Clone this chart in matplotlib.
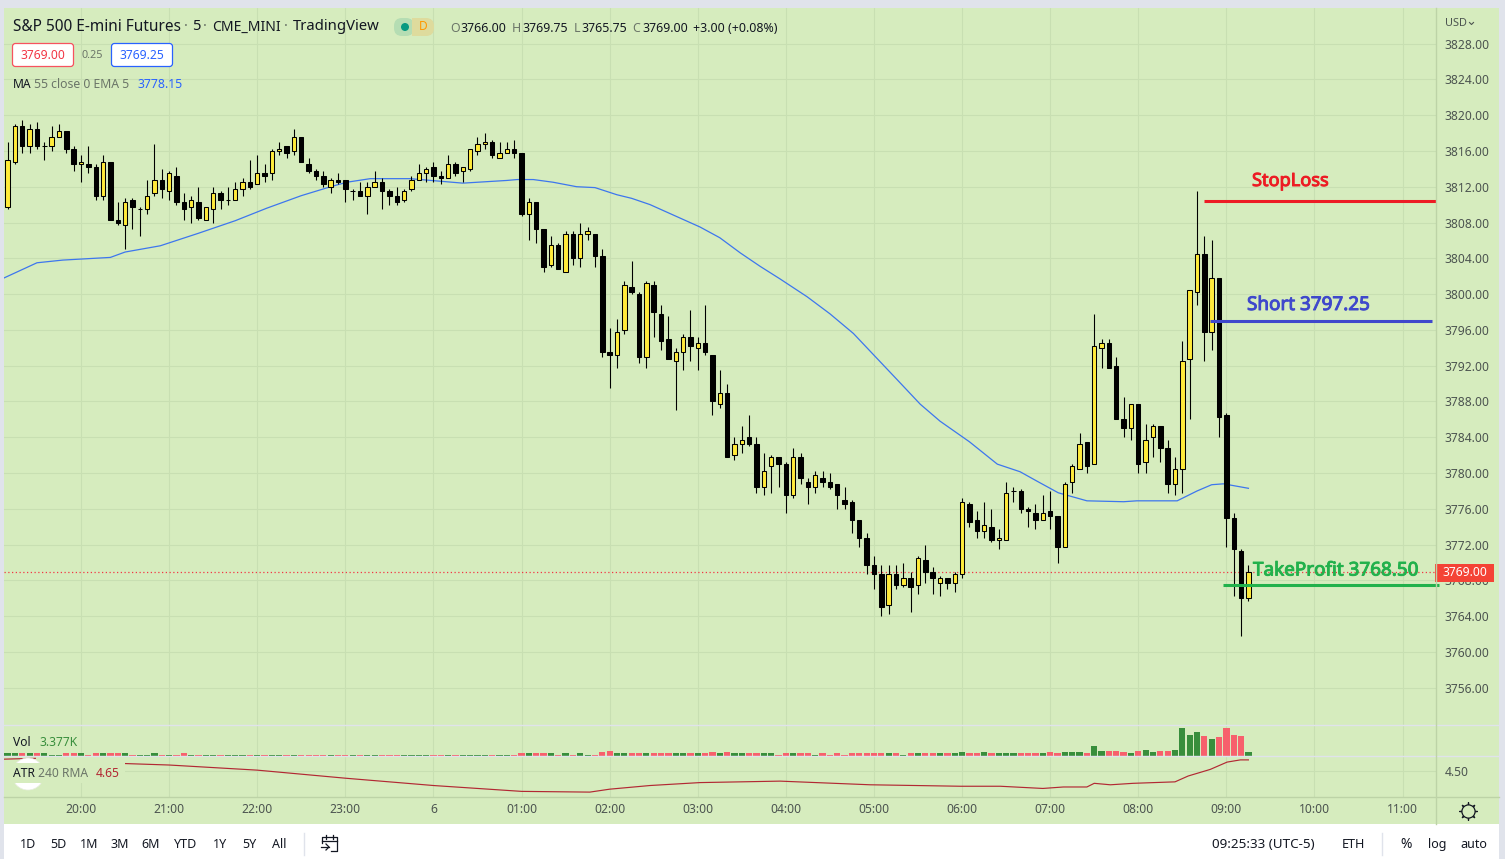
import matplotlib
matplotlib.use('Agg')
import matplotlib.pyplot as plt
import matplotlib.patheffects as pe
from matplotlib.patches import Rectangle, Circle, FancyBboxPatch

plt.rcParams['font.family'] = ['Noto Sans', 'DejaVu Sans']

W, H = 1505, 859

# 5 minute bars, bar 0 is 20:00
bar_index = list(range(-10, 160))
opens = [3809.75, 3814.75, 3818.75, 3816.5, 3818.5, 3816.5, 3816.5, 3817.5, 3818.25, 3816.25,
         3814.5, 3814.5, 3814.25, 3811, 3814.75, 3808.25, 3807.75, 3810.5, 3809.5, 3809.5,
         3811.25, 3812.75, 3811.5, 3813.25, 3810.25, 3809.75, 3810.25, 3808.25, 3809.5, 3811.25,
         3810.5, 3810.5, 3811.75, 3812.5, 3812.25, 3813.5, 3813.5, 3816, 3816.5, 3816,
         3817.5, 3814.5, 3813.75, 3813.25, 3812, 3812.75, 3812.75, 3811.5, 3811.5, 3811,
         3812, 3812.5, 3811.5, 3811, 3810.5, 3811.75, 3812.75, 3813.5, 3814.25, 3813.25,
         3813, 3814.5, 3813.75, 3814, 3816, 3816.75, 3817, 3815.25, 3815.75, 3816.25,
         3815.75, 3809, 3810.25, 3807.25, 3803.25, 3805.5, 3802.5, 3806.75, 3804, 3806.75,
         3806.75, 3804.25, 3793.5, 3793.25, 3796, 3800.75, 3800, 3793, 3801, 3797.75,
         3795, 3792.5, 3793.5, 3795.25, 3794, 3794.5, 3793.25, 3787.75, 3789, 3782,
         3783.25, 3784, 3783.25, 3778.5, 3780.75, 3781.75, 3781, 3777.5, 3781.75, 3779,
         3778.5, 3779.5, 3779, 3778.75, 3777, 3776.75, 3774.75, 3772.75, 3769.75, 3768.75,
         3765.25, 3768.75, 3767.5, 3768.25, 3767.5, 3770.25, 3769, 3767.75, 3768.25, 3767.75,
         3768.75, 3776.5, 3774.75, 3773.5, 3774, 3772.5, 3772.5, 3778, 3778, 3776,
         3775.5, 3774.75, 3775.75, 3775.25, 3771.75, 3779, 3780.5, 3783.5, 3781, 3794,
         3794.5, 3792, 3786, 3785, 3787.75, 3781.25, 3784, 3785.25, 3782.75, 3778.75,
         3780.5, 3792.75, 3800.25, 3804.5, 3795.75, 3801.75, 3786.5, 3775, 3771.25, 3766]
highs = [3817, 3819, 3819.5, 3819, 3819.25, 3817, 3818.75, 3819, 3818.25, 3816.5,
         3815.5, 3816.5, 3814.5, 3815.5, 3814.75, 3810.25, 3810.75, 3810.75, 3809.75, 3812.75,
         3816.75, 3814, 3813.75, 3814.25, 3811.25, 3811, 3812, 3809.75, 3812, 3811.5,
         3812, 3812.5, 3813, 3815, 3815.5, 3814.5, 3816.25, 3817, 3816.5, 3818.5,
         3817.5, 3815.25, 3814, 3813.75, 3813, 3813.5, 3812.75, 3811.75, 3812.5, 3812.5,
         3813.75, 3813, 3811.75, 3812, 3811.75, 3813.25, 3814.5, 3814.25, 3814.75, 3813.75,
         3815.5, 3814.75, 3814.25, 3816.25, 3817.5, 3818, 3817.25, 3817, 3817, 3817.25,
         3815.75, 3810.75, 3810.25, 3807.25, 3806.5, 3805.75, 3807, 3807, 3808, 3807.5,
         3806.75, 3805, 3796.25, 3797.25, 3801.5, 3803.75, 3800.25, 3801.5, 3801.5, 3798.75,
         3797.5, 3794, 3795.5, 3798.25, 3795.25, 3798.75, 3793.25, 3791.5, 3790, 3784,
         3785.25, 3786.5, 3784, 3782.25, 3782, 3781.75, 3781.25, 3782.75, 3782.25, 3779.5,
         3780.25, 3780.25, 3780, 3778.75, 3778.5, 3777, 3774.75, 3773.25, 3770.75, 3769.75,
         3769.75, 3769.75, 3770, 3769, 3770.75, 3772, 3769.5, 3768.5, 3768.25, 3769,
         3777.25, 3776.75, 3775.75, 3776.75, 3776, 3773.75, 3779, 3778.5, 3778.25, 3776.25,
         3776.5, 3777.5, 3778, 3775.25, 3779, 3781, 3784.5, 3783.5, 3797.75, 3795,
         3795, 3793, 3788.5, 3787.75, 3787.75, 3785.5, 3785.5, 3785.25, 3783.75, 3781.75,
         3794.75, 3800.5, 3811.5, 3806.5, 3806, 3801.75, 3786.75, 3775.5, 3771.5, 3769.75]
lows = [3809.5, 3814.5, 3815.75, 3815.75, 3816.25, 3815, 3816, 3817.5, 3815.75, 3813.75,
        3812.5, 3813.5, 3810.5, 3810.5, 3808.25, 3807.75, 3805, 3807.25, 3806.5, 3809,
        3811, 3810.75, 3810.5, 3810, 3808.25, 3808, 3808.25, 3808.25, 3808, 3809.5,
        3810, 3810.5, 3811, 3811.75, 3812.25, 3812.5, 3812.75, 3815.5, 3815.25, 3815.5,
        3814.75, 3813.5, 3812.75, 3812, 3811.25, 3812.25, 3810.25, 3810.5, 3811, 3809,
        3812, 3809.5, 3810, 3810, 3810.25, 3811.5, 3812.75, 3812.5, 3812.5, 3812.25,
        3813, 3813.25, 3812.5, 3813.75, 3815.5, 3816.25, 3815.25, 3815.25, 3815.75, 3815.25,
        3808.75, 3806, 3805.75, 3802.5, 3803, 3802.75, 3802.5, 3803.25, 3803, 3806,
        3803, 3793, 3789.5, 3791.75, 3795.5, 3800, 3792.25, 3791.75, 3795.25, 3793.75,
        3792.75, 3787, 3791.5, 3792.5, 3791.5, 3793.25, 3786.5, 3787.25, 3781.75, 3781.5,
        3782.25, 3783, 3777.75, 3777.5, 3777.75, 3778.5, 3775.5, 3777.25, 3778.75, 3776.5,
        3777.75, 3778.5, 3778.25, 3776, 3776, 3773.25, 3771.75, 3768.75, 3767, 3764,
        3764.25, 3767, 3767.25, 3764.5, 3766.5, 3767.75, 3766.5, 3766.25, 3767, 3766.75,
        3768.25, 3774, 3772.75, 3772.75, 3772.25, 3771.5, 3772.5, 3776.75, 3775.5, 3774,
        3773.75, 3774.75, 3773.75, 3770, 3771.75, 3777.75, 3780.5, 3780, 3781, 3791.75,
        3791.75, 3786, 3784, 3783.75, 3780, 3780, 3781.75, 3781.25, 3777.75, 3777.5,
        3777.75, 3786, 3798.75, 3792.5, 3793.75, 3784, 3771.75, 3766.25, 3761.75, 3765.75]
closes = [3815, 3818.75, 3816.5, 3818.5, 3816.5, 3816.5, 3817.5, 3818.25, 3816.25, 3814.5,
          3814.75, 3814.25, 3811, 3814.75, 3808.25, 3808, 3810.25, 3809.75, 3809.5, 3811,
          3812.75, 3811.75, 3813.5, 3810.25, 3809.5, 3810.5, 3808.5, 3809.75, 3811.25, 3810.5,
          3810.5, 3811.75, 3812.5, 3812, 3813.5, 3813.25, 3816, 3816.25, 3815.75, 3817.5,
          3814.75, 3813.75, 3813.25, 3812.25, 3812.75, 3812.5, 3811.75, 3811.5, 3811, 3812,
          3812.5, 3811.5, 3811, 3810.25, 3811.5, 3812.75, 3813.5, 3814, 3813.25, 3813,
          3814.5, 3813.5, 3814.25, 3816.25, 3816.75, 3817, 3815.5, 3815.75, 3816.25, 3815.75,
          3809, 3810.25, 3807.25, 3803, 3805.5, 3802.75, 3806.75, 3804, 3806.75, 3807,
          3804.25, 3793.5, 3793.25, 3795.75, 3801, 3800.25, 3793, 3801.25, 3798, 3794.75,
          3792.75, 3793.5, 3795.25, 3794.25, 3794.5, 3793.5, 3788, 3789, 3781.75, 3783.25,
          3783.75, 3783.25, 3778.5, 3780.25, 3781.75, 3781, 3777.5, 3781.75, 3779.5, 3778.5,
          3779.75, 3779, 3778.5, 3777.5, 3776.5, 3774.75, 3772.75, 3769.75, 3768.75, 3765,
          3768.75, 3767.5, 3768.25, 3767.25, 3770.5, 3769, 3768.25, 3768.25, 3767.75, 3768.75,
          3776.75, 3774.5, 3773.5, 3774.25, 3772.5, 3772.75, 3777.75, 3778, 3776, 3775.75,
          3774.75, 3775.5, 3775.25, 3771.75, 3778.75, 3780.75, 3783.25, 3780.75, 3794.25, 3794.5,
          3791.75, 3786, 3785, 3787.75, 3781, 3783.75, 3785.25, 3782.75, 3778.75, 3780.5,
          3792.5, 3800.5, 3804.5, 3795.75, 3801.75, 3786.25, 3775, 3771.5, 3766, 3769]
volume = [2.25, 2.25, 2.25, 2.25, 2.25, 2.25, 1.1, 1.1, 2.25, 2.25,
          2.25, 1.1, 2.25, 2.25, 2.25, 2.25, 2.25, 1.1, 1.1, 1.1,
          2.6, 1.1, 1.1, 1.1, 2.6, 1.1, 1.1, 1.1, 1.1, 1.1,
          1.1, 1.1, 1.1, 1.1, 1.1, 1.1, 1.1, 1.1, 1.1, 1.1,
          1.1, 1.1, 1.1, 1.1, 1.1, 1.1, 1.1, 1.1, 1.1, 1.1,
          1.1, 1.1, 1.1, 1.1, 1.1, 1.1, 1.1, 1.1, 1.1, 1.1,
          1.1, 1.1, 1.1, 1.1, 1.1, 1.1, 1.1, 1.1, 1.1, 1.1,
          2.25, 2.25, 2.25, 2.25, 2.25, 1.1, 2.25, 1.1, 2.25, 1.1,
          1.1, 3.4, 4.5, 2.25, 2.25, 2.25, 2.25, 2.25, 2.25, 2.25,
          2.25, 2.25, 2.25, 2.25, 2.25, 2.25, 3.4, 2.25, 3.4, 2.25,
          2.25, 2.25, 2.25, 2.25, 2.25, 1.1, 2.25, 2.25, 2.25, 2.25,
          1.1, 2.25, 1.1, 2.25, 1.1, 2.25, 2.25, 2.25, 2.25, 2.25,
          2.25, 2.25, 1.1, 2.25, 2.25, 2.25, 2.25, 2.25, 2.25, 2.25,
          3.4, 2.25, 2.25, 3.4, 2.25, 2.25, 2.25, 2.25, 2.25, 2.25,
          2.25, 2.25, 3.4, 2.25, 3.4, 3.4, 3.4, 2.25, 10.1, 4.5,
          4.5, 4.5, 3.4, 2.25, 4.5, 5.6, 3.4, 4.5, 4.5, 5.6,
          30.4, 22.5, 25.9, 21.4, 18, 20.3, 30.4, 22.5, 21.4, 3.377]

ema_x = [-10.5, -6, -2.5, 4, 6, 10.8, 16, 21, 25.3, 30, 34, 36.2, 39.4, 44.8, 52, 58, 59.4, 61.6,
         64.3, 67.5, 70, 73, 75, 77.5, 84.3, 87, 89.8, 92.5, 95.2, 98.9, 102, 105.2, 108.2, 111.2,
         114.3, 117, 121, 124.8, 127.9, 130.2, 133.1, 137, 142, 143.8, 149.3, 152, 154, 155.6, 159]
ema_y = [3801.8, 3803.5, 3803.8, 3804.1, 3804.7, 3805.4, 3806.8, 3808.2, 3809.6, 3811, 3812, 3812.5,
         3812.9, 3812.9, 3812.4, 3812.7, 3812.8, 3812.8, 3812.5, 3812, 3811.9, 3811.1, 3810.7, 3810,
         3807.5, 3806.3, 3804.6, 3803.1, 3801.7, 3799.7, 3797.8, 3795.6, 3793, 3790.4, 3787.7, 3785.8,
         3783.5, 3781, 3780.15, 3779.1, 3777.8, 3776.9, 3776.8, 3776.9, 3776.9, 3778, 3778.7, 3778.8,
         3778.3]

atr_x = [-10.5, -5, 6, 12, 24, 36, 48, 60, 69.3, 72, 77.5, 84.3, 95.2, 107.5, 119.8, 125.2, 131,
         133.8, 137, 138, 140.2, 143.3, 149, 150.8, 153.8, 156.1, 157.9, 159]
atr_y = [4.66, 4.675, 4.60, 4.58, 4.51, 4.40, 4.30, 4.22, 4.21, 4.25, 4.30, 4.34, 4.36, 4.31, 4.29,
         4.29, 4.26, 4.28, 4.28, 4.33, 4.31, 4.33, 4.35, 4.43, 4.52, 4.62, 4.65, 4.65]

price_ticks = [3756, 3760, 3764, 3768, 3772, 3776, 3780, 3784, 3788, 3792, 3796, 3800, 3804, 3808,
               3812, 3816, 3820, 3824, 3828]
hour_ticks = [0, 12, 24, 36, 48, 60, 72, 84, 96, 108, 120, 132, 144, 156, 168, 180]
hour_labels = ['20:00', '21:00', '22:00', '23:00', '6', '01:00', '02:00', '03:00', '04:00',
               '05:00', '06:00', '07:00', '08:00', '09:00', '10:00', '11:00']
range_labels = ['1D', '5D', '1M', '3M', '6M', 'YTD', '1Y', '5Y', 'All']
range_pos = [28, 58, 89, 120, 151, 186, 220, 249, 279]

last_price = 3769
stop_level = 3810.45
short_level = 3797.05
take_level = 3767.5

BG = '#D6ECBE'
GRID = '#C8DFB2'
EDGE = '#BDD3A7'
SEP = '#E0E3EB'
TXT = '#131722'
AXTXT = '#4C5450'
GREY = '#6B7568'
UP = '#FFEB3B'
VOL_UP = '#388E3C'
VOL_DOWN = '#F7606C'

fig = plt.figure(figsize=(W / 100, H / 100), dpi=100, facecolor=SEP)


def px_axes(left, top, right, bottom, z):
    return fig.add_axes([left / W, 1 - bottom / H, (right - left) / W, (bottom - top) / H], zorder=z)


# page background and overlay, both in screen pixels
back = px_axes(0, 0, W, H, 0)
back.set_xlim(0, W)
back.set_ylim(H, 0)
back.axis('off')
back.add_patch(Rectangle((4, 8), 1495, 816, fc=BG, ec='none'))
back.add_patch(Rectangle((4, 824), 1495, 35, fc='white', ec='none'))

top = px_axes(0, 0, W, H, 5)
top.set_xlim(0, W)
top.set_ylim(H, 0)
top.axis('off')

ax = px_axes(4, 8, 1436, 725, 2)
ax_vol = px_axes(4, 725, 1436, 755.5, 2)
ax_atr = px_axes(4, 755.5, 1436, 796.5, 2)

for a in (ax, ax_vol, ax_atr):
    a.set_facecolor('none')
    a.set_xlim(-10.49, 184.55)
    a.set_xticks(hour_ticks)
    a.grid(True, color=GRID, lw=0.8)
    a.set_axisbelow(True)
    a.yaxis.tick_right()
    a.tick_params(length=0, labelsize=8.7, labelcolor=AXTXT, labelbottom=False)
    a.tick_params(axis='y', pad=6.3)
    for s in a.spines.values():
        s.set_visible(False)

# candles
ax.set_ylim(3751.85, 3831.97)
ax.set_yticks(price_ticks)
ax.set_yticklabels(['%.2f' % p for p in price_ticks])
ax.plot(ema_x, ema_y, color='#3D76EE', lw=0.9, zorder=2)
ax.axhline(last_price, color='#F23645', lw=0.9, ls=(0, (1, 2)), zorder=2)
ax.vlines(bar_index, lows, highs, color='black', lw=0.78, zorder=3)
bottoms = [min(o, c) for o, c in zip(opens, closes)]
heights = [abs(o - c) for o, c in zip(opens, closes)]
body_colors = [UP if c > o else 'black' for o, c in zip(opens, closes)]
ax.bar(bar_index, heights, bottom=bottoms, width=0.6, color=body_colors, edgecolor='black', lw=0.75, zorder=4)

# hand drawn trade levels
ax.hlines(stop_level, 152.9, 184.5, color='#ED1C24', lw=2.2, zorder=6)
ax.hlines(short_level, 153.8, 184, color='#3F48CC', lw=2.2, zorder=6)
ax.hlines(take_level, 155.6, 185, color='#22B14C', lw=2.2, zorder=6, clip_on=False)

# volume
ax_vol.set_ylim(0, 34)
ax_vol.set_yticks([])
vol_colors = [VOL_UP if c >= o else VOL_DOWN for o, c in zip(opens, closes)]
ax_vol.bar(bar_index, volume, width=0.85, color=vol_colors, zorder=3)

# ATR
ax_atr.set_ylim(4.15, 4.71)
ax_atr.set_yticks([4.5])
ax_atr.set_yticklabels(['4.50'])
ax_atr.plot(atr_x, atr_y, color='#B22833', lw=0.85, zorder=3)
ax_atr.set_xticklabels(hour_labels)
ax_atr.tick_params(axis='x', labelbottom=True, pad=5, labelsize=8.7, labelcolor=AXTXT)

# pane separators and price scale border
top.plot([4, 1499], [724.5, 724.5], color=SEP, lw=1.0)
top.plot([4, 1499], [755.5, 755.5], color=SEP, lw=1.0)
top.plot([4, 1499], [796.5, 796.5], color=EDGE, lw=1.0)
top.plot([1436, 1436], [8, 824], color=EDGE, lw=1.0)


def label(x, y, s, color=TXT, size=8.7, ha='left', **kw):
    return top.text(x, y, s, color=color, fontsize=size, ha=ha, va='center', **kw)


# title row
label(13, 27, 'S&P 500 E-mini Futures', size=11.1)
label(186, 27, '·', color=GREY, size=10.6, ha='center')
label(192, 27, '5', size=10.6)
label(205, 27, '·', color=GREY, size=10.6, ha='center')
label(212, 27, 'CME_MINI', size=10.1)
label(286, 27, '·', color=GREY, size=10.6, ha='center')
label(293, 27, 'TradingView', size=10.7)
top.add_patch(FancyBboxPatch((394, 18), 20, 18, boxstyle='round,pad=0,rounding_size=8', fc='#B5DDB3', ec='none'))
top.add_patch(FancyBboxPatch((414, 18), 20, 18, boxstyle='round,pad=0,rounding_size=8', fc='#DEDB9D', ec='none'))
top.add_patch(Rectangle((412, 18), 8, 18, fc='#DEDB9D', ec='none'))
top.add_patch(Circle((405, 27), 4, fc='#089981', ec='none'))
label(423, 27, 'D', color='#FF9800', size=8.6, ha='center')

for x, s, c in [(450, 'O', GREY), (460, '3766.00', TXT), (512, 'H', GREY), (522, '3769.75', TXT),
                (574, 'L', GREY), (581.5, '3765.75', TXT), (632, 'C', GREY), (642, '3769.00', TXT),
                (693, '+3.00 (+0.08%)', TXT)]:
    label(x, 28, s, color=c, size=8.9)

# bid and ask
top.add_patch(FancyBboxPatch((12.5, 43.5), 61, 23, boxstyle='round,pad=0,rounding_size=3', fc='white', ec='#F7525F', lw=0.9))
label(43, 55.5, '3769.00', color='#F23645', ha='center')
label(92.5, 55.5, '0.25', color=GREY, size=7.8, ha='center')
top.add_patch(FancyBboxPatch((111.5, 43.5), 61, 23, boxstyle='round,pad=0,rounding_size=3', fc='white', ec='#2962FF', lw=0.9))
label(142, 55.5, '3769.25', color='#2962FF', ha='center')

label(13, 84, 'MA', size=8.7)
label(34, 84, '55 close 0 EMA 5', color=GREY, size=8.8)
label(138, 84, '3778.15', color='#2962FF', size=8.8)

# indicator legends
label(13, 742, 'Vol', size=8.7)
label(39, 742, '3.377K', color=VOL_UP, size=8.7)
top.add_patch(Rectangle((36, 756.5), 89, 7, fc=BG, ec='none', zorder=0.5))
top.add_patch(Circle((28, 774), 16, fc='white', ec='#E8EDE0', lw=0.5, zorder=1))
top.add_patch(Rectangle((4, 763), 121, 20, fc=BG, ec='none', zorder=1.5))
label(13, 773.5, 'ATR', size=8.7, zorder=3)
label(38, 773.5, '240 RMA', color=GREY, size=8.7, zorder=3)
label(96, 773.5, '4.65', color='#B22833', size=8.7, zorder=3)

# price scale extras
label(1445, 23, 'USD', size=7.9, color=AXTXT)
top.plot([1469.5, 1471.5, 1473.5], [22.5, 24.5, 22.5], color=AXTXT, lw=0.8)
top.add_patch(Rectangle((1435, 564), 59, 17.5, fc='#F44336', ec='none'))
label(1464.5, 573, '3769.00', color='white', size=8.7, ha='center')

# trade labels, thickened with a stroke since the regular face has no bold here
for x, y, s, c, fs in [(1252, 181, 'StopLoss', '#ED1C24', 13.1),
                       (1247, 305, 'Short 3797.25', '#3F48CC', 13.6),
                       (1253, 570.5, 'TakeProfit 3768.50', '#22B14C', 13.6)]:
    t = label(x, y, s, color=c, size=fs)
    t.set_path_effects([pe.withStroke(linewidth=0.7, foreground=c)])

# settings gear
top.plot([1467.5], [810.5], marker=(8, 2, 0), ms=13, mec=TXT, mew=0.9)
top.plot([1467.5], [810.5], marker='o', ms=9.5, mfc=BG, mec=TXT, mew=0.9)

# bottom toolbar
for x, s in zip(range_pos, range_labels):
    label(x, 844.5, s, size=9, ha='center')
top.plot([304, 304], [833, 855], color=SEP, lw=1)
top.plot([322, 322, 337, 337, 331], [843, 837, 837, 851, 851], color=TXT, lw=0.9)
top.plot([322, 337], [841, 841], color=TXT, lw=0.9)
top.plot([326, 326], [835, 839], color=TXT, lw=0.9)
top.plot([333, 333], [835, 839], color=TXT, lw=0.9)
top.plot([321, 329], [847, 847], color=TXT, lw=0.9)
top.plot([326, 329, 326], [844, 847, 850], color=TXT, lw=0.9)

label(1212, 844.5, '09:25:33 (UTC-5)', size=9.7)
label(1342, 844.5, 'ETH', size=9)
top.plot([1382, 1382], [833, 855], color=SEP, lw=1)
label(1406, 844.5, '%', size=10, ha='center')
label(1437, 844.5, 'log', size=9, ha='center')
label(1474, 844.5, 'auto', size=9, ha='center')

fig.savefig('out.png', dpi=100, facecolor=fig.get_facecolor())
